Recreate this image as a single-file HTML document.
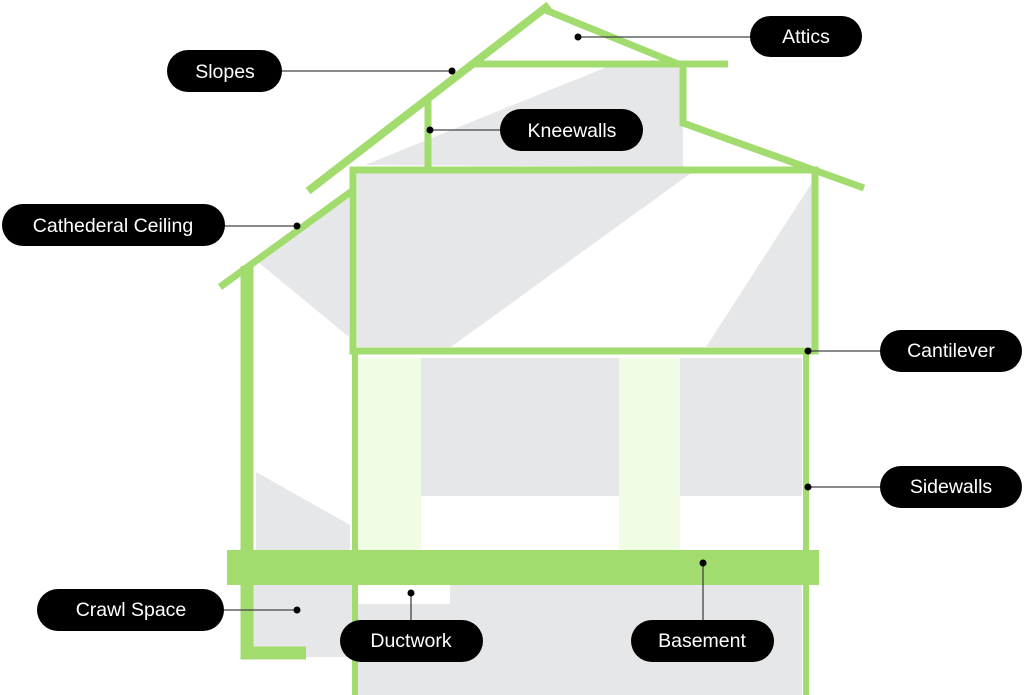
<!DOCTYPE html>
<html><head><meta charset="utf-8"><style>
html,body{margin:0;padding:0;background:#fff;width:1024px;height:695px;overflow:hidden}
text{font-family:"Liberation Sans",sans-serif;font-size:19.5px;fill:#fff}
</style></head><body>
<svg width="1024" height="695" viewBox="0 0 1024 695" xmlns="http://www.w3.org/2000/svg">
<g fill="#e6e7e8">
<polygon points="365,165 607,67 683,67 683,167"/>
<polygon points="357,173 691,173 451,347 357,347"/>
<polygon points="815,178 706,347 812,347"/>
<polygon points="258,262 349,195 349,337"/>
<polygon points="421,358 619,358 619,496 421,496"/>
<polygon points="680,358 802,358 802,496 680,496"/>
<polygon points="256,472 350,525 350,552 256,552"/>
<rect x="252" y="585" width="100" height="72"/>
<rect x="355" y="585" width="447" height="110"/>
</g>
<rect x="358" y="585" width="92" height="19" fill="#fff"/>
<g fill="#f0fce4">
<rect x="358" y="358" width="63" height="192"/>
<rect x="619" y="358" width="61" height="192"/>
</g>
<g fill="none" stroke="#a2dc6e" stroke-linecap="butt">
<line x1="308" y1="191" x2="549" y2="5" stroke-width="8"/>
<polyline points="543,9 678,64" stroke-width="7"/>
<line x1="474" y1="64" x2="728" y2="64" stroke-width="7"/>
<polyline points="683,64 683,123 864,188" stroke-width="7"/>
<line x1="428" y1="98" x2="428" y2="170" stroke-width="7"/>
<rect x="353" y="170" width="462" height="181" stroke-width="7"/>
<line x1="220" y1="287" x2="352" y2="191" stroke-width="7"/>
<polyline points="247,266 247,653 306,653" stroke-width="13"/>
<line x1="355" y1="351" x2="355" y2="695" stroke-width="6"/>
<line x1="806" y1="351" x2="806" y2="695" stroke-width="6"/>
</g>
<rect x="227" y="550" width="592" height="35" fill="#a2dc6e"/>
<g stroke="#444" stroke-width="1.3">
<line x1="578" y1="37" x2="752" y2="37"/>
<line x1="280" y1="71" x2="452" y2="71"/>
<line x1="430" y1="130" x2="502" y2="130"/>
<line x1="222" y1="226" x2="297" y2="226"/>
<line x1="808" y1="351" x2="882" y2="351"/>
<line x1="808" y1="487" x2="882" y2="487"/>
<line x1="222" y1="610" x2="297" y2="610"/>
<line x1="411" y1="593" x2="411" y2="622"/>
<line x1="703" y1="563" x2="703" y2="622"/>
</g>
<g fill="#000">
<circle cx="578" cy="37" r="3.5"/><circle cx="452" cy="71" r="3.5"/><circle cx="430" cy="130" r="3.5"/>
<circle cx="297" cy="226" r="3.5"/><circle cx="808" cy="351" r="3.5"/><circle cx="808" cy="487" r="3.5"/>
<circle cx="297" cy="610" r="3.5"/><circle cx="411" cy="593" r="3.5"/><circle cx="703" cy="563" r="3.5"/>
<rect x="750" y="16" width="112" height="41" rx="20.5"/>
<rect x="167" y="50" width="115" height="42" rx="21"/>
<rect x="500" y="109" width="143" height="42" rx="21"/>
<rect x="2" y="204" width="223" height="42" rx="21"/>
<rect x="880" y="330" width="142" height="42" rx="21"/>
<rect x="880" y="466" width="142" height="42" rx="21"/>
<rect x="37" y="589" width="187" height="42" rx="21"/>
<rect x="340" y="620" width="143" height="42" rx="21"/>
<rect x="631" y="620" width="143" height="42" rx="21"/>
</g>
<g text-anchor="middle">
<text x="806" y="43">Attics</text>
<text x="225" y="78">Slopes</text>
<text x="572" y="137">Kneewalls</text>
<text x="113" y="232">Cathederal Ceiling</text>
<text x="951" y="357">Cantilever</text>
<text x="951" y="493">Sidewalls</text>
<text x="131" y="616">Crawl Space</text>
<text x="411" y="647">Ductwork</text>
<text x="702" y="647">Basement</text>
</g>
</svg>
</body></html>
